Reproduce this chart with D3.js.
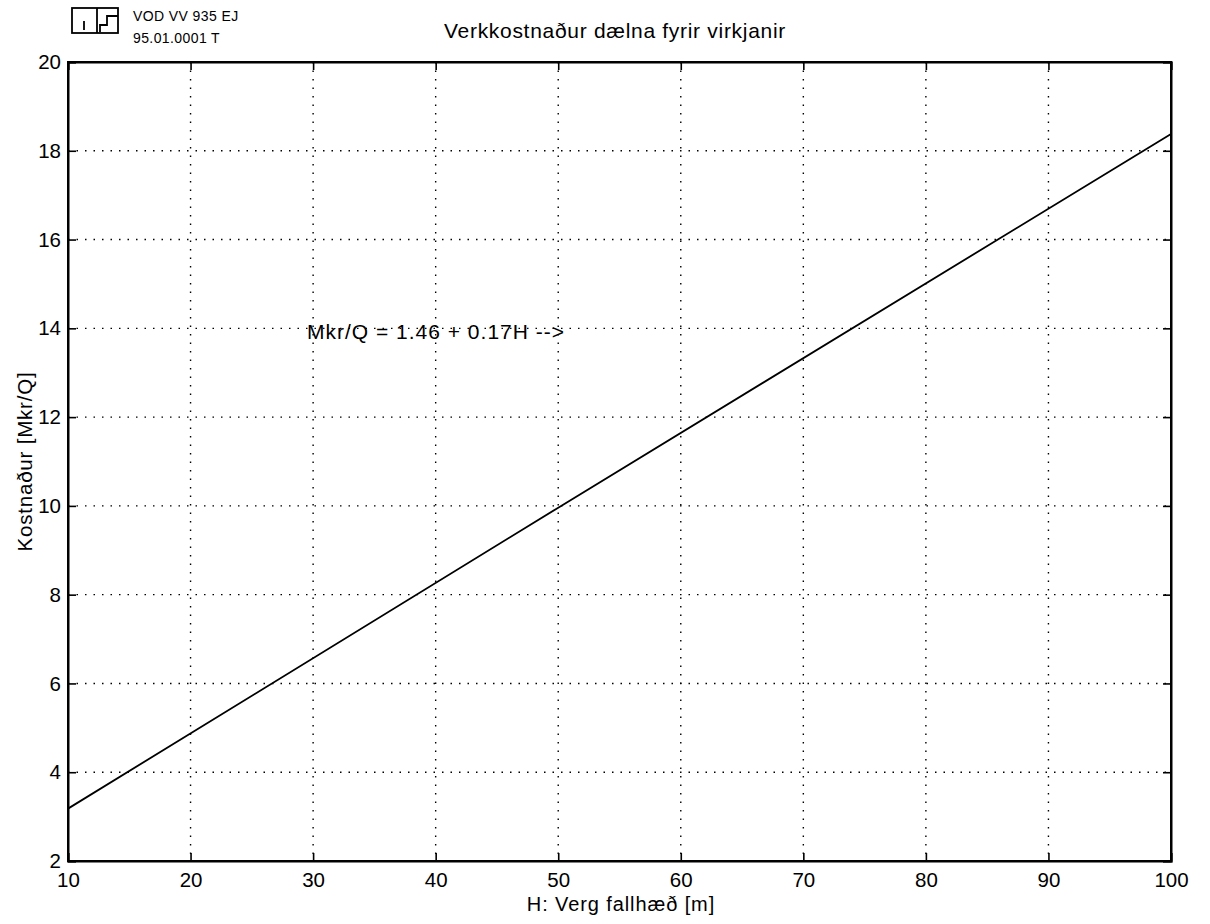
<!DOCTYPE html>
<html>
<head>
<meta charset="utf-8">
<script src="https://cdn.jsdelivr.net/npm/d3@7"></script>
<style>
  body { margin: 0; background: #fff; }
  svg text { font-family: "Liberation Sans", Arial, Helvetica, sans-serif; fill: #000; }
</style>
</head>
<body>
<div id="chart"></div>
<script>
// chart values
const xTicks = [10, 20, 30, 40, 50, 60, 70, 80, 90, 100];
const yTicks = [2, 4, 6, 8, 10, 12, 14, 16, 18, 20];
const fallHeight = [10, 50, 100];
const costValues = [3.18, 9.96, 18.38];
const titleText = "Verkkostnaður dælna fyrir virkjanir";
const xLabel = "H: Verg fallhæð [m]";
const yLabel = "Kostnaður [Mkr/Q]";
const noteText = "Mkr/Q = 1.46 + 0.17H -->";
const stampLines = ["VOD VV 935 EJ", "95.01.0001 T"];

const width = 1210, height = 924;
const margin = { top: 62, right: 39, bottom: 63, left: 68 };
const innerW = width - margin.left - margin.right;
const innerH = height - margin.top - margin.bottom;

const svg = d3.select("#chart").append("svg")
    .attr("width", width)
    .attr("height", height);

const x = d3.scaleLinear().domain([10, 100]).range([0, innerW]);
const y = d3.scaleLinear().domain([2, 20]).range([innerH, 0]);

const g = svg.append("g")
    .attr("transform", `translate(${margin.left},${margin.top})`);

// dotted grid
g.append("g").selectAll("line")
    .data(xTicks.slice(1, -1))
    .enter().append("line")
    .attr("x1", d => x(d)).attr("x2", d => x(d))
    .attr("y1", 0).attr("y2", innerH)
    .attr("stroke", "#000").attr("stroke-width", 1.4)
    .attr("stroke-dasharray", "1.5,7");

g.append("g").selectAll("line")
    .data(yTicks.slice(1, -1))
    .enter().append("line")
    .attr("x1", 0).attr("x2", innerW)
    .attr("y1", d => y(d)).attr("y2", d => y(d))
    .attr("stroke", "#000").attr("stroke-width", 1.4)
    .attr("stroke-dasharray", "1.5,7");

// axes, inward ticks on all four sides
const tickLen = 8;
const bottomAxis = g.append("g")
    .attr("transform", `translate(0,${innerH})`)
    .call(d3.axisBottom(x).tickValues(xTicks).tickSize(-tickLen).tickPadding(11));
const topAxis = g.append("g")
    .call(d3.axisTop(x).tickValues(xTicks).tickSize(-tickLen).tickFormat(""));
const leftAxis = g.append("g")
    .call(d3.axisLeft(y).tickValues(yTicks).tickSize(-tickLen).tickPadding(7));
const rightAxis = g.append("g")
    .attr("transform", `translate(${innerW},0)`)
    .call(d3.axisRight(y).tickValues(yTicks).tickSize(-tickLen).tickFormat(""));

[bottomAxis, topAxis, leftAxis, rightAxis].forEach(a => {
    a.select(".domain").attr("stroke", "#000").attr("stroke-width", 2);
    a.selectAll(".tick line").attr("stroke", "#000").attr("stroke-width", 1.6);
    a.selectAll("text").attr("font-size", 20.5).attr("font-family", null);
});
bottomAxis.selectAll(".tick text").attr("dy", "0.71em");
g.append("rect")
    .attr("width", innerW).attr("height", innerH)
    .attr("fill", "none").attr("stroke", "#000").attr("stroke-width", 2);

// cost line
const line = d3.line()
    .x((d, i) => x(fallHeight[i]))
    .y(d => y(d));
g.append("path")
    .datum(costValues)
    .attr("fill", "none")
    .attr("stroke", "#000")
    .attr("stroke-width", 1.8)
    .attr("d", line);

// annotation
g.append("text")
    .attr("x", x(29.5))
    .attr("y", y(13.75))
    .attr("font-size", 21)
    .attr("letter-spacing", 1)
    .text(noteText);

// title and labels
svg.append("text")
    .attr("x", 615).attr("y", 38)
    .attr("text-anchor", "middle")
    .attr("font-size", 21)
    .attr("letter-spacing", 0.7)
    .text(titleText);

svg.append("text")
    .attr("x", 621).attr("y", 911)
    .attr("text-anchor", "middle")
    .attr("font-size", 20)
    .attr("letter-spacing", 0.9)
    .text(xLabel);

svg.append("text")
    .attr("transform", `translate(32,${margin.top + innerH / 2}) rotate(-90)`)
    .attr("text-anchor", "middle")
    .attr("font-size", 20.5)
    .attr("letter-spacing", 0.8)
    .text(yLabel);

// logo stamp
const logo = svg.append("g").attr("fill", "none").attr("stroke", "#000").attr("stroke-width", 1.8);
logo.append("rect").attr("x", 72).attr("y", 8).attr("width", 46).attr("height", 25);
logo.append("line").attr("x1", 97).attr("x2", 97).attr("y1", 8).attr("y2", 33);
logo.append("line").attr("x1", 84).attr("x2", 84).attr("y1", 21).attr("y2", 30);
logo.append("polyline").attr("points", "118,16 107,16 107,25 100,25 100,32");

svg.append("g").selectAll("text")
    .data(stampLines)
    .enter().append("text")
    .attr("x", 133)
    .attr("y", (d, i) => 21 + i * 22)
    .attr("font-size", 14)
    .attr("letter-spacing", 0.4)
    .text(d => d);
</script>
</body>
</html>
